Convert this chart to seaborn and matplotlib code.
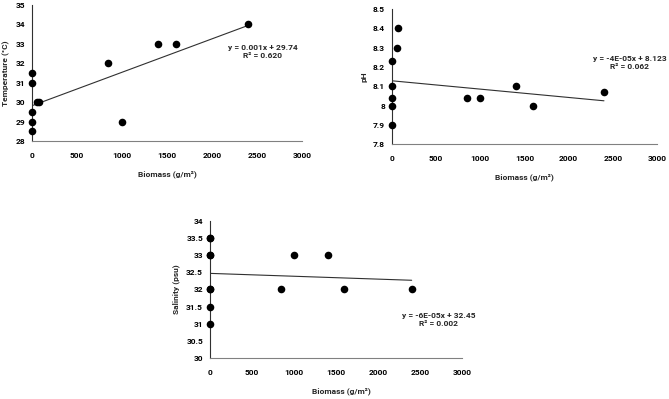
import numpy as np
import pandas as pd
import matplotlib
matplotlib.use("Agg")
import matplotlib.pyplot as plt
import seaborn as sns

# --- data (several stations overlap at 0 g/m2) ---
temp_biomass = [0, 0, 0, 0, 0, 60, 80, 850, 1000, 1400, 1600, 2400]
temp_values = [31.5, 31, 29.5, 29, 28.5, 30, 30, 32, 29, 33, 33, 34]

ph_biomass = [0, 0, 0, 0, 0, 55, 70, 850, 1000, 1400, 1600, 2400]
ph_values = [8.23, 8.1, 8.04, 8.0, 7.9, 8.3, 8.4, 8.04, 8.04, 8.1, 8.0, 8.07]

sal_biomass = [0, 0, 0, 0, 0, 0, 0, 0, 850, 1000, 1400, 1600, 2400]
sal_values = [33.5, 33.5, 33, 33, 32, 32, 31.5, 31, 32, 33, 33, 32, 32]

eq_text = ["y = 0.001x + 29.74\nR² = 0.620",
           "y = -4E-05x + 8.123\nR² = 0.062",
           "y = -6E-05x + 32.45\nR² = 0.002"]

sns.set_style("white")
plt.rcParams["font.family"] = ["Roboto", "DejaVu Sans"]
plt.rcParams["font.weight"] = "bold"
plt.rcParams["axes.labelweight"] = "bold"

fig = plt.figure(figsize=(6.69, 3.99), dpi=100)

panels = [
    # x, y, ylabel, rect, ylim, yticks, text pos, ylabel x, xlabel x, xlabel y
    (temp_biomass, temp_values, "Temperature (°C)",
     [0.0478, 0.6466, 0.4036, 0.341], (28, 35), np.arange(28, 35.1, 1),
     (2560, 32.6), "{:.0f}", -0.080, 0.50, -0.213),
    (ph_biomass, ph_values, "pH",
     [0.586, 0.639, 0.396, 0.338], (7.8, 8.5), np.arange(7.8, 8.51, 0.1),
     (2690, 8.225), "{:g}", -0.092, 0.50, -0.219),
    (sal_biomass, sal_values, "Salinity (psu)",
     [0.314, 0.1028, 0.3767, 0.3434], (30, 34), np.arange(30, 34.1, 0.5),
     (2720, 31.12), "{:g}", -0.121, 0.52, -0.215),
]

for i, (xs, ys, ylab, rect, ylim, yt, tpos, fmt, ylx, xlx, xly) in enumerate(panels):
    ax = fig.add_axes(rect)
    df = pd.DataFrame({"biomass": xs, "val": ys})
    sns.regplot(data=df, x="biomass", y="val", ci=None, ax=ax,
                scatter_kws={"s": 30, "color": "black", "alpha": 1,
                             "linewidths": 0, "zorder": 3, "clip_on": False},
                line_kws={"color": "#303030", "lw": 0.8})
    ax.set_xlim(0, 3000)
    ax.set_ylim(*ylim)
    ax.set_xticks(range(0, 3001, 500))
    ax.set_yticks(yt)
    ax.set_yticklabels([fmt.format(round(v, 2)) for v in yt])
    ax.tick_params(axis="both", labelsize=6, length=3, width=0.8, colors="#404040",
                   labelcolor="black")
    ax.tick_params(axis="x", direction="in", pad=8)
    ax.tick_params(axis="y", direction="out", pad=2)
    for s in ["top", "right"]:
        ax.spines[s].set_visible(False)
    ax.spines["left"].set_color("#303030")
    ax.spines["bottom"].set_color("#808080")
    ax.spines["left"].set_linewidth(0.8)
    ax.spines["bottom"].set_linewidth(0.8)
    ax.set_xlabel("Biomass (g/m²)", fontsize=6)
    ax.set_ylabel(ylab, fontsize=6)
    ax.xaxis.set_label_coords(xlx, xly)
    ax.yaxis.set_label_coords(ylx, 0.5)
    ax.text(tpos[0], tpos[1], eq_text[i], fontsize=6, fontweight="bold",
            ha="center", va="center", linespacing=1.15)

fig.savefig("out.png", dpi=100)
